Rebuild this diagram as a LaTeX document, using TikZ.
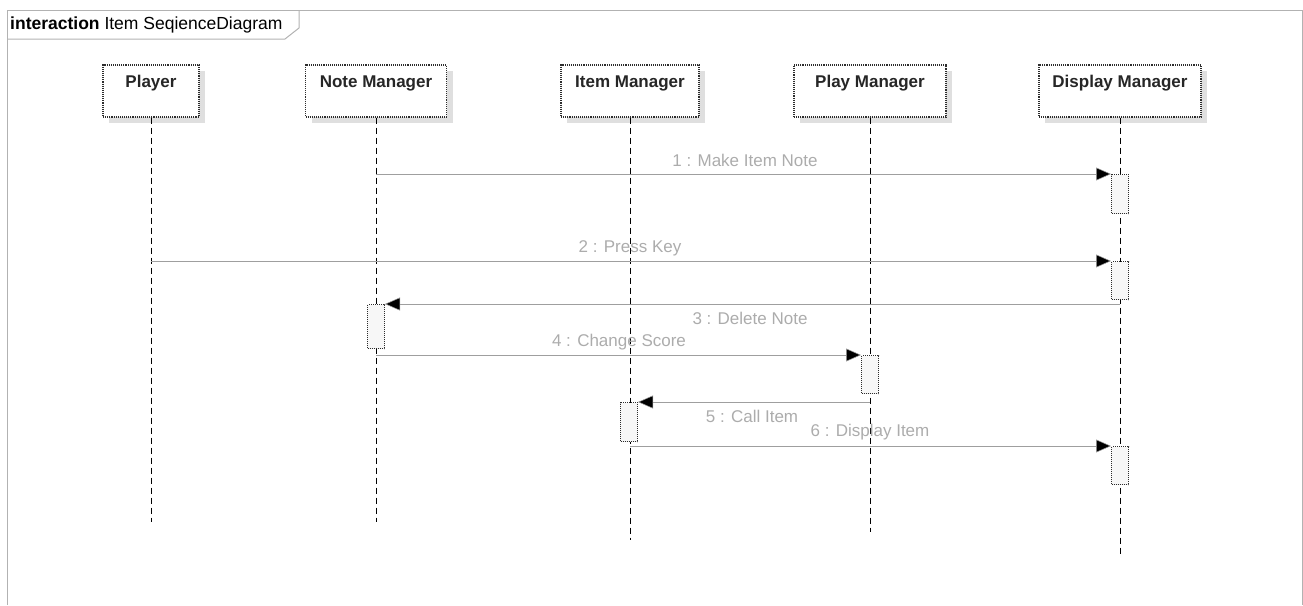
\documentclass[tikz,border=0pt]{standalone}
\usepackage{fontspec}
\setmainfont{Liberation Sans}
\usetikzlibrary{arrows.meta,shadows}
\begin{document}
\begin{tikzpicture}[x=1pt,y=-1pt,
  frameline/.style={draw=gray!60, line width=1pt},
  headbox/.style={draw=gray!35!black, densely dotted, line width=1.1pt, fill=white,
    minimum height=52pt, inner sep=0pt,
    drop shadow={shadow xshift=6pt, shadow yshift=-6pt, fill=gray!25, opacity=1}},
  headtext/.style={anchor=north, font=\fontsize{17}{20}\selectfont\bfseries, text=black!85, inner sep=0pt, yshift=-11pt},
  lifeline/.style={draw=black, line width=0.8pt, dash pattern=on 6pt off 4pt},
  act/.style={draw=gray!35!black, densely dotted, line width=1pt, fill=gray!6,
    minimum width=17pt, inner sep=0pt, anchor=north},
  msg/.style={draw=gray!75, line width=1pt, -{Triangle[length=15pt,width=13pt,fill=black,line width=0.5pt]}},
  msglabel/.style={font=\fontsize{17}{20}\selectfont, text=gray!65, inner sep=0pt}
]
\useasboundingbox (0,0) rectangle (1303,605);

% frame and its title tab
\draw[frameline] (7,605) -- (7,10) -- (1302,10) -- (1302,605);
\draw[frameline] (7,39) -- (285,39) -- (299,28) -- (299,10);
\node[anchor=west, inner sep=0pt, font=\fontsize{17.5}{20}\selectfont] (title) at (10,25)
  {\textbf{interaction} Item SeqienceDiagram};

% lifeline heads
\node[headbox, minimum width=96pt]  (pl) at (151,91)  {};
\node[headbox, minimum width=141pt] (nm) at (376,91)  {};
\node[headbox, minimum width=138pt] (im) at (630,91)  {};
\node[headbox, minimum width=152pt] (pm) at (870,91)  {};
\node[headbox, minimum width=162pt] (dm) at (1120,91) {};
\node[headtext] (plt) at (pl.north) {Player};
\node[headtext] (nmt) at (nm.north) {Note Manager};
\node[headtext] (imt) at (im.north) {Item Manager};
\node[headtext] (pmt) at (pm.north) {Play Manager};
\node[headtext] (dmt) at (dm.north) {Display Manager};

% lifeline ends
\coordinate (ple) at (151,522);
\coordinate (nme) at (376,522);
\coordinate (ime) at (630,540);
\coordinate (pme) at (870,532);
\coordinate (dme) at (1120,555);
\draw[lifeline] (pl.south) -- (ple);
\draw[lifeline] (nm.south) -- (nme);
\draw[lifeline] (im.south) -- (ime);
\draw[lifeline] (pm.south) -- (pme);
\draw[lifeline] (dm.south) -- (dme);

% activation bars
\node[act, minimum height=39pt] (a1) at (1120,174) {};
\node[act, minimum height=38pt] (a2) at (1120,261) {};
\node[act, minimum height=44pt] (a3) at (376,304)  {};
\node[act, minimum height=38pt] (a4) at (870,355)  {};
\node[act, minimum height=39pt] (a5) at (629,402)  {};
\node[act, minimum height=38pt] (a6) at (1120,446) {};

% messages
\draw[msg] (nm.south |- a1.north) -- (a1.north west);
\draw[msg] (pl.south |- a2.north) -- (a2.north west);
\draw[msg] (dm.south |- a3.north) -- (a3.north east);
\draw[msg] (nm.south |- a4.north) -- (a4.north west);
\draw[msg] (pm.south |- a5.north) -- (a5.north east);
\draw[msg] (im.south |- a6.north) -- (a6.north west);

% message labels
\node[msglabel] (l1) at (745,160) {1 : Make Item Note};
\node[msglabel] (l2) at (630,248) {2 : Press Key};
\node[msglabel] (l3) at (750,318) {3 : Delete Note};
\node[msglabel] (l4) at (619,342) {4 : Change Score};
\node[msglabel] (l5) at (752,416) {5 : Call Item};
\node[msglabel] (l6) at (870,432) {6 : Display Item};
\end{tikzpicture}
\end{document}
